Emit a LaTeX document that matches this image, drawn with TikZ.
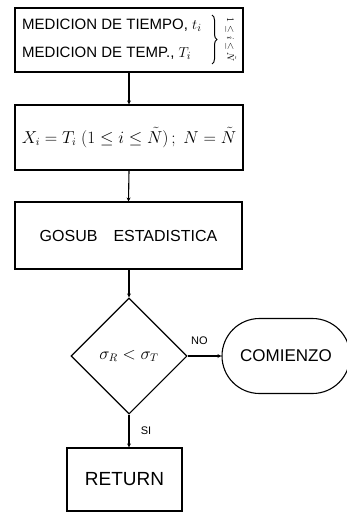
\documentclass[tikz,border=0pt]{standalone}
\usepackage{amsmath}
\usepackage{fontspec}
\setmainfont{Liberation Sans}
\usetikzlibrary{positioning}
\usetikzlibrary{shapes.geometric,shapes.misc,arrows.meta,decorations.pathreplacing}
\tikzset{
	procbox/.style={draw, line width=1.1pt, rectangle, inner sep=0pt},
	decision/.style={draw, line width=1.1pt, diamond, inner sep=0pt, minimum width=116pt, minimum height=116pt},
	terminal/.style={draw, line width=1.1pt, rounded rectangle, inner sep=0pt, minimum width=128pt, minimum height=75pt},
	flow/.style={line width=1.1pt, -{Stealth[length=4pt,width=4pt]}},
	lbl/.style={font=\fontsize{15}{17}\selectfont, inner sep=0pt}
}
\begin{document}
\begin{tikzpicture}[x=1pt,y=-1pt]
	\useasboundingbox (0,0) rectangle (346,513);
	% boxes
	\node[procbox, minimum width=228pt, minimum height=64pt] (medicion) at (129,40) {};
	\node[lbl, anchor=west] (tiempo) at (22,25) {MEDICION DE TIEMPO, $t_i$};
	\node[lbl, anchor=west] (temp) at (22,53) {MEDICION DE TEMP., $T_i$};
	\draw[line width=1pt, decoration={brace, amplitude=5pt}, decorate] (212,15) -- (212,64);
	\node[font=\fontsize{10}{11}\selectfont, rotate=-90, inner sep=0pt] (indice) at (231,40) {$1\le i\le\tilde{N}$};
	\node[procbox, minimum width=228pt, minimum height=65pt, font=\fontsize{16}{18}\selectfont] (asigna) at (129,137.5) {$X_i = T_i\;(1\le i\le\tilde{N})\,;\;N=\tilde{N}$};
	\node[procbox, minimum width=227pt, minimum height=67pt, font=\fontsize{16}{18}\selectfont] (gosub) at (128.5,235.5) {GOSUB\quad ESTADISTICA};
	\node[decision, font=\fontsize{16}{18}\selectfont] (compara) at (129,356) {$\sigma_R<\sigma_T$};
	\node[terminal, font=\fontsize{17}{19}\selectfont] (comienzo) at (286,356) {COMIENZO};
	\node[procbox, minimum width=115pt, minimum height=63pt, font=\fontsize{19}{21}\selectfont] (retorno) at (124.5,479.5) {RETURN};
	% connectors
	\draw[flow] (medicion.south -| asigna.north) -- (asigna.north);
	\draw[flow] (asigna.south) -- (gosub.north);
	\draw[flow] (gosub.south -| compara.north) -- (compara.north);
	\draw[flow] (compara.east) -- (comienzo.west) node[pos=0.35, above=8pt, font=\fontsize{11}{13}\selectfont] {NO};
	\draw[flow] (compara.south) -- (compara.south |- retorno.north) node[midway, right=8pt, font=\fontsize{11}{13}\selectfont] {SI};
\end{tikzpicture}
\end{document}
